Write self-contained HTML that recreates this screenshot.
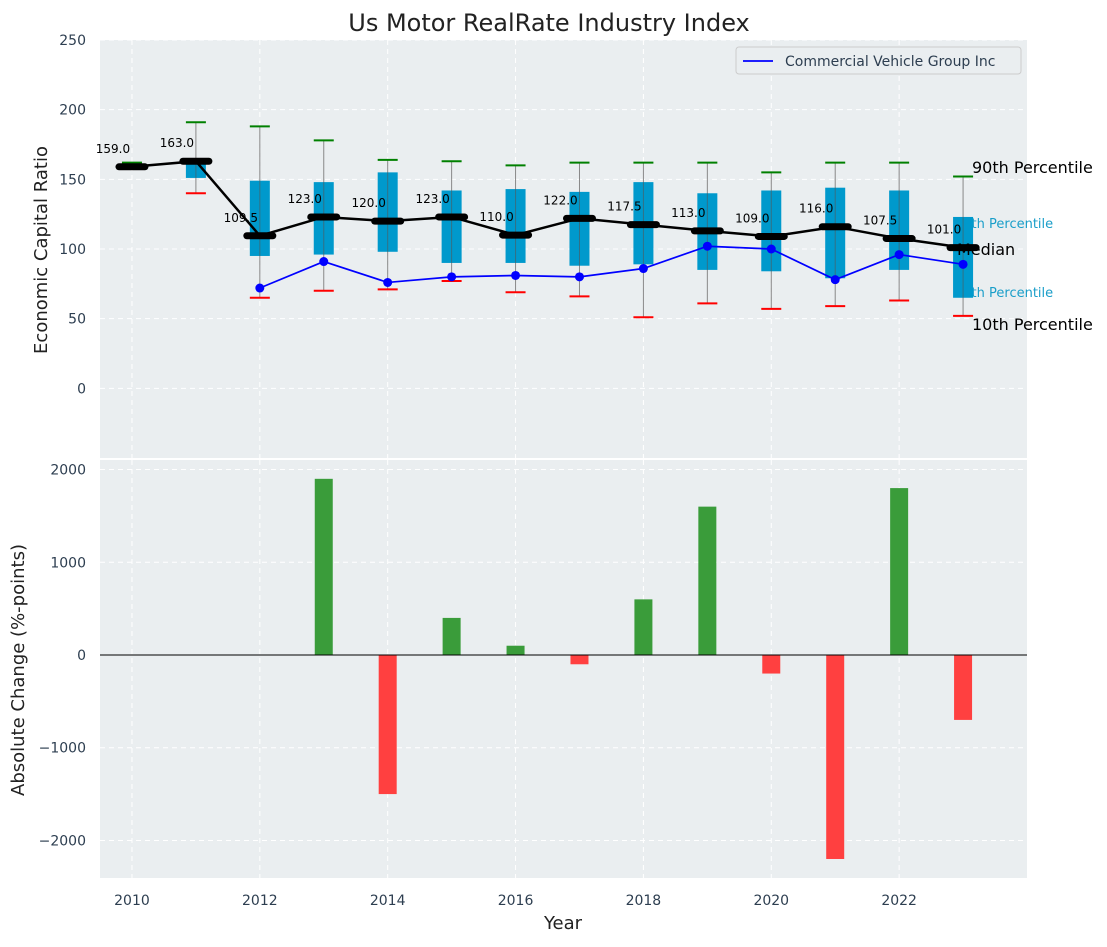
<!DOCTYPE html>
<html><head><meta charset="utf-8"><style>
body{margin:0;background:#fff;font-family:"Liberation Sans","DejaVu Sans",sans-serif;}
svg text{font-family:"DejaVu Sans","Liberation Sans",sans-serif;}
</style></head><body>
<svg id="c" width="1107" height="942" xmlns="http://www.w3.org/2000/svg"></svg>
<script>
const years=[2010,2011,2012,2013,2014,2015,2016,2017,2018,2019,2020,2021,2022,2023];
const p90=[162,191,188,178,164,163,160,162,162,162,155,162,162,152];
const p75=[null,163,149,148,155,142,143,141,148,140,142,144,142,123];
const p25=[null,151,95,96,98,90,90,88,89,85,84,79,85,65];
const p10=[null,140,65,70,71,77,69,66,51,61,57,59,63,52];
const medians=[159,163,109.5,123,120,123,110,122,117.5,113,109,116,107.5,101];
const companyYears=[2012,2013,2014,2015,2016,2017,2018,2019,2020,2021,2022,2023];
const companyVals=[72,91,76,80,81,80,86,102,100,78,96,89];
const changeYears=[2013,2014,2015,2016,2017,2018,2019,2020,2021,2022,2023];
const changeVals=[1900,-1500,400,100,-100,600,1600,-200,-2200,1800,-700];
const topTicks=[0,50,100,150,200,250];
const botTicks=[-2000,-1000,0,1000,2000];
const xTicks=[2010,2012,2014,2016,2018,2020,2022];

const NS="http://www.w3.org/2000/svg";
const svg=document.getElementById('c');
function el(t,a,p){const e=document.createElementNS(NS,t);for(const k in a)e.setAttribute(k,a[k]);(p||svg).appendChild(e);return e;}
const L=100,R=1027;
const x=v=>L+(v-2009.5)/(14.5)*(R-L);
const T0=40,T1=458,yT=v=>T0+(250-v)/(300)*(T1-T0);
const B0=460,B1=878,yB=v=>B0+(2103-v)/(4508)*(B1-B0);

let r=el('rect',{x:L,y:T0,width:R-L,height:T1-T0,fill:'#eaeef0'});

r=el('rect',{x:L,y:B0,width:R-L,height:B1-B0,fill:'#eaeef0'});


topTicks.forEach(t=>{el('line',{x1:L,x2:R,y1:yT(t),y2:yT(t),stroke:'#fff','stroke-dasharray':'5,4','stroke-width':1});
 const tx=el('text',{x:86,y:yT(t)+5,'text-anchor':'end','font-size':14,fill:'#2d3e50'});tx.textContent=t;
 });
botTicks.forEach(t=>{el('line',{x1:L,x2:R,y1:yB(t),y2:yB(t),stroke:'#fff','stroke-dasharray':'5,4','stroke-width':1});
 const tx=el('text',{x:86,y:yB(t)+5,'text-anchor':'end','font-size':14,fill:'#2d3e50'});tx.textContent=(t<0?'\u2212'+(-t):t);
 });
xTicks.forEach(t=>{el('line',{x1:x(t),x2:x(t),y1:T0,y2:T1,stroke:'#fff','stroke-dasharray':'5,4'});
 el('line',{x1:x(t),x2:x(t),y1:B0,y2:B1,stroke:'#fff','stroke-dasharray':'5,4'});
 const tx=el('text',{x:x(t),y:905,'text-anchor':'middle','font-size':14,fill:'#2d3e50'});tx.textContent=t;
 });

// right annotations (drawn before boxes so the 2023 box covers part)
[['90th Percentile',972,173,16,'#000'],['75th Percentile',955,228,13,'#1a9ec9'],['25th Percentile',955,297,13,'#1a9ec9'],['10th Percentile',972,330,16,'#000']].forEach(a=>{
 const t=el('text',{x:a[1],y:a[2],'font-size':a[3],fill:a[4]});t.textContent=a[0];
 });

years.forEach((yr,i)=>{
 const cx=x(yr);
 if(p10[i]!=null){el('line',{x1:cx,x2:cx,y1:yT(p90[i]),y2:yT(p10[i]),stroke:'#888','stroke-width':1});}
 if(p75[i]!=null){const b=el('rect',{x:cx-10,y:yT(p75[i]),width:20,height:yT(p25[i])-yT(p75[i]),fill:'#0099cc'});
  
  el('line',{x1:cx,x2:cx,y1:yT(p75[i]),y2:yT(p25[i]),stroke:'#555','stroke-width':1,opacity:0.6});}
 const g=el('line',{x1:cx-10,x2:cx+10,y1:yT(p90[i]),y2:yT(p90[i]),stroke:'green','stroke-width':2});
 
 if(p10[i]!=null){const rc=el('line',{x1:cx-10,x2:cx+10,y1:yT(p10[i]),y2:yT(p10[i]),stroke:'red','stroke-width':2});
  }
});
// Median annotation on top of box
let mt=el('text',{x:957,y:255,'font-size':16,fill:'#000'});mt.textContent='Median';


let pl=el('polyline',{points:years.map((yr,i)=>x(yr)+','+yT(medians[i])).join(' '),fill:'none',stroke:'#000','stroke-width':2.5});

pl=el('polyline',{points:companyYears.map((yr,i)=>x(yr)+','+yT(companyVals[i])).join(' '),fill:'none',stroke:'blue','stroke-width':1.7});

companyYears.forEach((yr,i)=>{const c=el('circle',{cx:x(yr),cy:yT(companyVals[i]),r:4.5,fill:'blue'});
 });
years.forEach((yr,i)=>{const m=el('line',{x1:x(yr)-13,x2:x(yr)+13,y1:yT(medians[i]),y2:yT(medians[i]),stroke:'#000','stroke-width':7,'stroke-linecap':'round'});
 
 const t=el('text',{x:x(yr)-19,y:yT(medians[i])-14,'text-anchor':'middle','font-size':12,fill:'#000'});t.textContent=medians[i].toFixed(1);
 });

const lg=el('g',{});
el('rect',{x:736,y:47,width:285,height:27,rx:3,fill:'#eaeef0',stroke:'#ccc'},lg);
el('line',{x1:743,x2:773,y1:61,y2:61,stroke:'blue','stroke-width':1.7},lg);
let t=el('text',{x:785,y:66,'font-size':14,fill:'#2d3e50'},lg);t.textContent='Commercial Vehicle Group Inc';


changeYears.forEach((yr,i)=>{const v=changeVals[i];const y0=yB(0),y1=yB(v);
 const b=el('rect',{x:x(yr)-9,y:Math.min(y0,y1),width:18,height:Math.abs(y1-y0),fill:v>=0?'#3a9c3a':'#ff4040'});
 });
el('line',{x1:L,x2:R,y1:yB(0),y2:yB(0),stroke:'#000','stroke-width':1});

t=el('text',{x:549,y:31,'text-anchor':'middle','font-size':24,fill:'#222'});t.textContent='Us Motor RealRate Industry Index';

t=el('text',{x:0,y:0,'text-anchor':'middle','font-size':18,fill:'#222',transform:'translate(47,250) rotate(-90)'});t.textContent='Economic Capital Ratio';

t=el('text',{x:0,y:0,'text-anchor':'middle','font-size':18,fill:'#222',transform:'translate(24,670) rotate(-90)'});t.textContent='Absolute Change (%-points)';

t=el('text',{x:563,y:929,'text-anchor':'middle','font-size':18,fill:'#222'});t.textContent='Year';

</script>
</body></html>
